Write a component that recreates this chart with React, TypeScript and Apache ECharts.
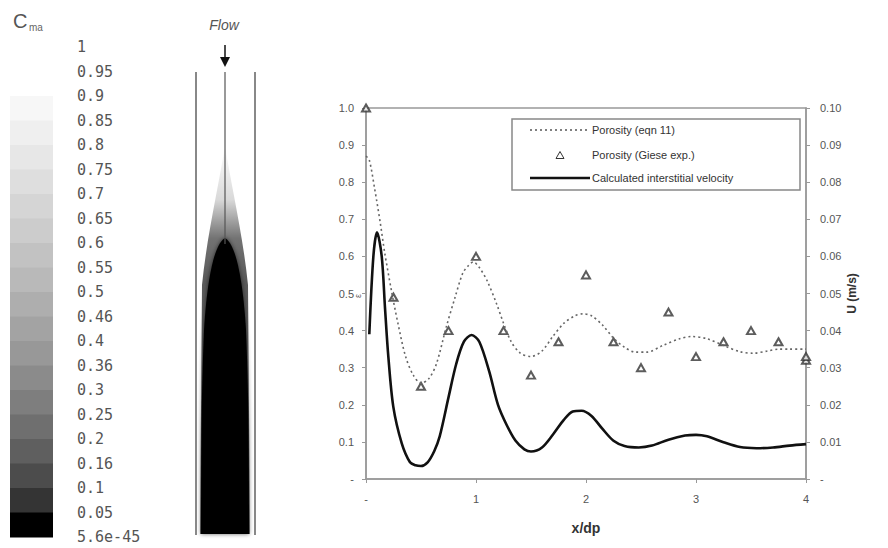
import React, { useEffect, useRef } from "react";
import * as echarts from "echarts";

// ---- data ----
const colorbarLabels = ["1", "0.95", "0.9", "0.85", "0.8", "0.75", "0.7", "0.65", "0.6", "0.55", "0.5", "0.46", "0.4", "0.36", "0.3", "0.25", "0.2", "0.16", "0.1", "0.05", "5.6e-45"];
const colorbarLevels = [0.95, 0.9, 0.85, 0.8, 0.75, 0.7, 0.65, 0.6, 0.55, 0.5, 0.45, 0.4, 0.35, 0.3, 0.25, 0.2, 0.15, 0.1, 0.05, 0];

const legendNames = ["Porosity (eqn 11)", "Porosity (Giese exp.)", "Calculated interstitial velocity"];

const porosityEqn: [number, number][] = [
  [0, 0.87], [0.03, 0.86], [0.08, 0.78], [0.13, 0.69], [0.17, 0.61], [0.23, 0.51], [0.29, 0.42], [0.36, 0.33],
  [0.43, 0.28], [0.5, 0.258], [0.57, 0.27], [0.64, 0.31], [0.73, 0.41], [0.81, 0.49], [0.88, 0.555], [0.93, 0.575],
  [0.975, 0.585], [1.03, 0.57], [1.1, 0.535], [1.19, 0.47], [1.25, 0.42], [1.32, 0.37], [1.4, 0.34], [1.5, 0.33],
  [1.6, 0.345], [1.7, 0.385], [1.8, 0.42], [1.9, 0.44], [1.97, 0.445], [2.05, 0.44], [2.15, 0.415], [2.25, 0.38],
  [2.35, 0.355], [2.45, 0.342], [2.55, 0.342], [2.7, 0.36], [2.85, 0.378], [2.96, 0.384], [3.1, 0.378], [3.25, 0.36],
  [3.4, 0.343], [3.52, 0.339], [3.65, 0.345], [3.75, 0.35], [3.85, 0.35], [4.0, 0.35],
];

const porosityGiese: [number, number][] = [
  [0, 1.0], [0.25, 0.49], [0.5, 0.25], [0.75, 0.4], [1.0, 0.6], [1.25, 0.4], [1.5, 0.28], [1.75, 0.37], [2.0, 0.55],
  [2.25, 0.37], [2.5, 0.3], [2.75, 0.45], [3.0, 0.33], [3.25, 0.37], [3.5, 0.4], [3.75, 0.37], [4.0, 0.32], [4.0, 0.33],
];

const velocity: [number, number][] = [
  [0.03, 0.039], [0.067, 0.06], [0.1, 0.0665], [0.143, 0.06], [0.173, 0.046], [0.203, 0.033], [0.248, 0.0195],
  [0.325, 0.0096], [0.4, 0.0045], [0.45, 0.0037], [0.5, 0.0035], [0.56, 0.0045], [0.62, 0.0075], [0.67, 0.0115],
  [0.75, 0.022], [0.82, 0.031], [0.89, 0.037], [0.96, 0.0388], [1.03, 0.037], [1.12, 0.029], [1.2, 0.02],
  [1.28, 0.0145], [1.36, 0.0103], [1.44, 0.008], [1.5, 0.0074], [1.6, 0.0085], [1.7, 0.012], [1.8, 0.016],
  [1.88, 0.0182], [1.96, 0.0184], [2.05, 0.017], [2.15, 0.0135], [2.25, 0.0103], [2.35, 0.0089], [2.48, 0.0085],
  [2.6, 0.009], [2.75, 0.0106], [2.9, 0.0117], [3.0, 0.0119], [3.1, 0.0115], [3.25, 0.0099], [3.4, 0.0086],
  [3.55, 0.0083], [3.7, 0.0085], [3.85, 0.009], [4.0, 0.0094],
];

const xTicks = ["-", "1", "2", "3", "4"];

const plumePath =
  "M 225 238 C 214 244 207 280 204 330 C 202 380 201 420 201 534 L 249 534 C 249 420 248 380 246 330 C 243 280 236 244 225 238 Z";
const haloPath =
  "M 225 145 C 219 185 207 235 202 285 L 200 534 L 250 534 L 248 285 C 243 235 231 185 225 145 Z";
echarts.graphic.registerShape("plume", echarts.graphic.extendPath(plumePath, {}) as any);
echarts.graphic.registerShape("halo", echarts.graphic.extendPath(haloPath, {}) as any);

function grayOf(v: number) {
  const t = Math.min(1, v / 0.9);
  const g = Math.round(255 * Math.pow(t, 0.55));
  return `rgb(${g},${g},${g})`;
}

export default function App() {
  const ref = useRef<HTMLDivElement>(null);
  useEffect(() => {
    const chart = echarts.init(ref.current!, undefined, { renderer: "svg" });
    const labelTop = 47;
    const step = 24.5;
    const elements: any[] = [];
    // colorbar blocks
    colorbarLevels.forEach((v, i) => {
      elements.push({
        type: "rect",
        shape: { x: 10, y: labelTop + i * step, width: 43, height: step + 0.5 },
        style: { fill: grayOf(v) },
      });
    });
    colorbarLabels.forEach((t, i) => {
      elements.push({
        type: "text",
        x: 77,
        y: labelTop + i * step,
        style: { text: t, fontFamily: "DejaVu Sans Mono", fontSize: 15, fill: "#555", align: "left", verticalAlign: "middle" },
      });
    });
    // C_ma title
    elements.push({ type: "text", x: 13, y: 21, style: { text: "C", fontFamily: "Arial", fontSize: 20, fill: "#555", align: "left", verticalAlign: "middle" } });
    elements.push({ type: "text", x: 29, y: 27, style: { text: "ma", fontFamily: "Arial", fontSize: 10, fill: "#666", align: "left", verticalAlign: "middle" } });
    // Flow tube
    elements.push({ type: "text", x: 224, y: 25, style: { text: "Flow", fontFamily: "Arial", fontStyle: "italic", fontSize: 14, fill: "#555", align: "center", verticalAlign: "middle" } });
    elements.push({
      type: "halo",
      x: 0,
      y: 0,
      style: {
        fill: new echarts.graphic.LinearGradient(0, 0, 0, 1, [
          { offset: 0, color: "rgba(0,0,0,0)" },
          { offset: 0.14, color: "rgba(0,0,0,0.15)" },
          { offset: 0.24, color: "rgba(0,0,0,0.55)" },
          { offset: 0.35, color: "rgba(0,0,0,0.65)" },
          { offset: 1, color: "rgba(0,0,0,0.6)" },
        ]),
      },
    });
    elements.push({ type: "plume", x: 0, y: 0, style: { fill: "#000", shadowBlur: 4, shadowColor: "rgba(0,0,0,0.6)" } });
    elements.push({ type: "line", shape: { x1: 196, y1: 72, x2: 196, y2: 535 }, style: { stroke: "#888", lineWidth: 2 } });
    elements.push({ type: "line", shape: { x1: 255, y1: 72, x2: 255, y2: 535 }, style: { stroke: "#888", lineWidth: 2 } });
    elements.push({ type: "line", shape: { x1: 225, y1: 72, x2: 225, y2: 244 }, style: { stroke: "#555", lineWidth: 1.2 } });
    elements.push({ type: "line", shape: { x1: 225, y1: 45, x2: 225, y2: 60 }, style: { stroke: "#111", lineWidth: 1.5 } });
    elements.push({ type: "polygon", shape: { points: [[220, 57], [230, 57], [225, 67]] }, style: { fill: "#111" } });

    // epsilon label
    elements.push({ type: "text", x: 358, y: 296, rotation: Math.PI / 2, style: { text: "ε", fontSize: 9, fill: "#555", align: "center", verticalAlign: "middle" } });

    // legend box
    const lgX = 512, lgY = 119;
    elements.push({ type: "rect", z: 10, shape: { x: lgX, y: lgY, width: 288, height: 71 }, style: { fill: "#fff", stroke: "#888", lineWidth: 1.5 } });
    const rows = [130, 155, 178];
    elements.push({ type: "line", z: 11, shape: { x1: 530, y1: rows[0], x2: 590, y2: rows[0] }, style: { stroke: "#555", lineWidth: 1.5, lineDash: [2, 3] } });
    elements.push({ type: "polygon", z: 11, shape: { points: [[556, rows[1] + 3.5], [564, rows[1] + 3.5], [560, rows[1] - 3.5]] }, style: { fill: "#fff", stroke: "#333", lineWidth: 1 } });
    elements.push({ type: "line", z: 11, shape: { x1: 530, y1: rows[2], x2: 590, y2: rows[2] }, style: { stroke: "#111", lineWidth: 2.5 } });
    legendNames.forEach((t, i) => {
      elements.push({ type: "text", z: 11, x: 592, y: rows[i], style: { text: t, fontFamily: "Arial", fontSize: 11, fill: "#333", align: "left", verticalAlign: "middle" } });
    });

    const labelStyle = { color: "#555", fontSize: 11, fontFamily: "Arial" };
    chart.setOption({
      animation: false,
      backgroundColor: "#fff",
      grid: { left: 366, right: 82, top: 108, bottom: 69, show: true, borderColor: "#999", borderWidth: 1.5 },
      legend: { show: false },
      xAxis: {
        type: "value",
        min: 0,
        max: 4,
        interval: 1,
        name: "x/dp",
        nameLocation: "middle",
        nameGap: 42,
        nameTextStyle: { fontSize: 14, fontWeight: "bold", color: "#333", fontFamily: "Arial" },
        axisLine: { lineStyle: { color: "#999", width: 1.5 } },
        axisTick: { length: 4, lineStyle: { color: "#999" } },
        axisLabel: { ...labelStyle, margin: 14, formatter: (v: number) => xTicks[Math.round(v)] },
        splitLine: { show: false },
      },
      yAxis: [
        {
          type: "value",
          min: 0,
          max: 1,
          interval: 0.1,
          axisLine: { show: true, lineStyle: { color: "#999", width: 1.5 } },
          axisTick: { show: true, length: 4, lineStyle: { color: "#999" } },
          axisLabel: { ...labelStyle, margin: 12, formatter: (v: number) => (v === 0 ? "-" : v.toFixed(1)) },
          splitLine: { show: false },
        },
        {
          type: "value",
          min: 0,
          max: 0.1,
          interval: 0.01,
          position: "right",
          name: "U (m/s)",
          nameLocation: "middle",
          nameGap: 40,
          nameRotate: 90,
          nameTextStyle: { fontSize: 12, fontWeight: "bold", color: "#333", fontFamily: "Arial" },
          axisLine: { show: true, lineStyle: { color: "#999", width: 1.5 } },
          axisTick: { show: true, length: 4, lineStyle: { color: "#999" } },
          axisLabel: { ...labelStyle, margin: 14, formatter: (v: number) => (v === 0 ? "-" : v.toFixed(2)) },
          splitLine: { show: false },
        },
      ],
      series: [
        {
          name: legendNames[0],
          type: "line",
          yAxisIndex: 0,
          data: porosityEqn,
          symbol: "none",
          smooth: 0.3,
          color: "#666",
          lineStyle: { color: "#666", width: 1.6, type: [2, 3] },
        },
        {
          name: legendNames[1],
          type: "scatter",
          yAxisIndex: 0,
          data: porosityGiese,
          symbol: "emptyTriangle",
          symbolSize: [8, 7],
          clip: false,
          color: "#333",
          itemStyle: { color: "#333", borderWidth: 1 },
        },
        {
          name: legendNames[2],
          type: "line",
          yAxisIndex: 1,
          data: velocity,
          symbol: "none",
          smooth: 0.3,
          color: "#111",
          lineStyle: { color: "#111", width: 2.6 },
        },
      ],
      graphic: { elements },
    });
    return () => chart.dispose();
  }, []);
  return <div ref={ref} style={{ position: "fixed", left: 0, top: 0, width: 888, height: 548 }} />;
}
